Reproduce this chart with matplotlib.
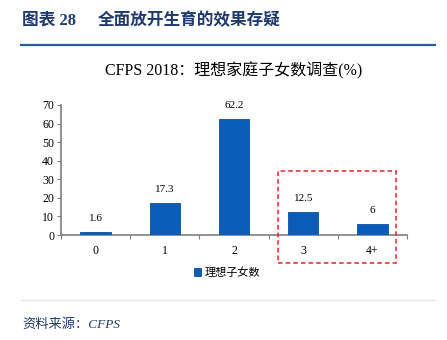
import matplotlib
matplotlib.use("Agg")
from matplotlib import pyplot as plt
from matplotlib.patches import Rectangle
from matplotlib.lines import Line2D

plt.rcParams['font.family'] = ['Liberation Serif', 'Noto Sans CJK SC']

categories = ['0', '1', '2', '3', '4+']
values = [1.6, 17.3, 62.2, 12.5, 6]
labels = ['1.6', '17.3', '62.2', '12.5', '6']

navy = '#1f3a6e'
bar_color = '#0a5cb8'
axis_gray = '#7f7f7f'

fig = plt.figure(figsize=(4.47, 3.40), dpi=100)
ax = fig.add_axes([0.1365, 0.3088, 0.774, 0.3824])

x = range(len(categories))
bars = ax.bar(x, values, width=0.44, color=bar_color, edgecolor='#0b4f9c',
              linewidth=0.6, label='理想子女数', zorder=3)
for xi, v, t in zip(x, values, labels):
    ax.text(xi, v + 5, t, ha='center', va='bottom', fontsize=8)

ax.set_xlim(-0.5, len(categories) - 0.5)
ax.set_ylim(0, 70)
ax.set_yticks(range(0, 71, 10))
ax.set_xticks([i - 0.5 for i in range(len(categories) + 1)])
ax.set_xticklabels([])
ax.set_xticks(list(x), minor=True)
ax.set_xticklabels(categories, minor=True)
ax.tick_params(axis='x', which='major', length=3, color=axis_gray, direction='out')
ax.tick_params(axis='x', which='minor', length=0, labelsize=8.5, pad=7)
ax.tick_params(axis='y', length=3, color=axis_gray, labelsize=8.5, pad=2)
for s in ['top', 'right']:
    ax.spines[s].set_visible(False)
for s in ['left', 'bottom']:
    ax.spines[s].set_color(axis_gray)
    ax.spines[s].set_linewidth(1.2)

ax.set_title('CFPS 2018：理想家庭子女数调查(%)', fontsize=11.5, pad=21)

# highlight box around the 3+ children columns
ax.add_patch(Rectangle((2.64, -15.1), 1.70, 49.6, fill=False, edgecolor='#ee2222',
                       linestyle=(0, (3, 2)), linewidth=1.1, clip_on=False, zorder=4))

ax.legend(loc='upper center', bbox_to_anchor=(0.48, -0.17), frameon=False,
          handlelength=0.7, handleheight=0.7, handletextpad=0.3,
          prop={'family': ['Noto Sans CJK SC'], 'size': 8})

# page header and footer
fig.text(22 / 447, 1 - 21 / 340, '图表 28', fontsize=12, fontweight='bold',
         color=navy, va='center')
fig.text(98 / 447, 1 - 21 / 340, '全面放开生育的效果存疑', fontsize=12,
         fontweight='bold', color=navy, va='center')
fig.add_artist(Line2D([21 / 447, 435 / 447], [1 - 45 / 340, 1 - 45 / 340],
                      color='#2e5b9a', linewidth=1.6))
fig.add_artist(Line2D([21 / 447, 435 / 447], [1 - 300 / 340, 1 - 300 / 340],
                      color='#e4e8f0', linewidth=1.0))
fig.text(22 / 447, 1 - 325 / 340, '资料来源：CFPS', fontsize=9.5, style='italic',
         color=navy, va='center')

fig.savefig('out.png', dpi=100)
